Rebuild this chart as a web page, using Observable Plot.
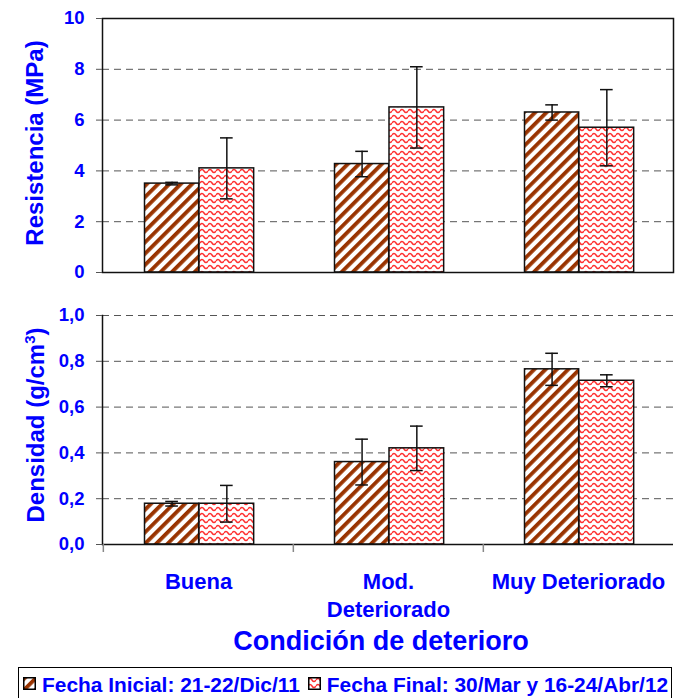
<!DOCTYPE html>
<html><head><meta charset="utf-8">
<script src="https://cdn.jsdelivr.net/npm/d3@7"></script>
<script src="https://cdn.jsdelivr.net/npm/@observablehq/plot@0.6"></script>
<style>
body{margin:0;background:#fff;font-family:"Liberation Sans",Arial,sans-serif;}
#wrap{position:relative;width:676px;height:698px;overflow:hidden;background:#fff;}
.abs{position:absolute;}
.lab{color:#0000ff;font-weight:bold;white-space:nowrap;line-height:1;}
#legend{position:absolute;left:18px;top:667px;width:654px;height:40px;border:1.5px solid #000;box-sizing:border-box;display:flex;align-items:flex-start;padding:5px 0 0 4px;}
#legend .sw{width:13px;height:13px;margin-top:4px;flex:none;}
#legend .tx{color:#0000ff;font-weight:bold;font-size:20.9px;white-space:nowrap;line-height:1.1;}
</style></head><body>
<div id="wrap">
<svg width="0" height="0" style="position:absolute">
<defs>
<pattern id="stripes" patternUnits="userSpaceOnUse" width="8" height="8" patternTransform="rotate(45)">
<rect width="8" height="8" fill="#fff"/>
<rect x="0" y="0" width="3.8" height="8" fill="#993300"/>
</pattern>
<pattern id="waves" patternUnits="userSpaceOnUse" width="8" height="6">
<rect width="8" height="6" fill="#fff"/>
<path d="M0,3 Q2,0 4,3 T8,3" fill="none" stroke="#ff3030" stroke-width="1.5"/>
</pattern>
</defs></svg>
<div id="top" class="abs" style="left:0;top:0"></div>
<div id="bot" class="abs" style="left:0;top:290px"></div>
<div class="abs lab" style="left:35px;top:143px;font-size:24px;transform:translate(-50%,-50%) rotate(-90deg)">Resistencia (MPa)</div>
<div class="abs lab" style="left:35px;top:425px;font-size:24px;transform:translate(-50%,-50%) rotate(-90deg)">Densidad (g/cm<sup style="font-size:15px;vertical-align:9px">3</sup>)</div>
<div class="abs lab" style="left:381px;top:641px;font-size:27px;transform:translate(-50%,-50%)">Condición de deterioro</div>
<div id="legend"></div>
</div>
<script>
const categories = ["Buena", "Mod. Deteriorado", "Muy Deteriorado"];
const categoryLabels = ["Buena", "Mod.\nDeteriorado", "Muy Deteriorado"];
const seriesNames = ["Fecha Inicial: 21-22/Dic/11", "Fecha Final: 30/Mar y 16-24/Abr/12"];
const seriesFills = ["url(#stripes)", "url(#waves)"];

const resistenciaInicial = [3.5, 4.27, 6.3];
const resistenciaInicialErr = [0.05, 0.5, 0.3];
const resistenciaFinal = [4.1, 6.5, 5.7];
const resistenciaFinalErr = [1.2, 1.6, 1.5];

const densidadInicial = [0.178, 0.36, 0.765];
const densidadInicialErr = [0.01, 0.1, 0.07];
const densidadFinal = [0.178, 0.42, 0.715];
const densidadFinalErr = [0.08, 0.097, 0.026];

const resistenciaTicks = [0, 2, 4, 6, 8, 10];
const densidadTicks = [0, 0.2, 0.4, 0.6, 0.8, 1.0];

const W = 676, ML = 102, MR = 3;
const bw = (W - ML - MR) / categories.length;
const barStart = [41.5, 96], barEnd = [96, 151];
const capHalf = 6.5;
const font = "Liberation Sans, Arial, sans-serif";
const ink = "#111";

function rows(vals, errs) {
  return categories.map((c, i) => ({cat: c, value: vals[i], lo: vals[i] - errs[i], hi: vals[i] + errs[i]}));
}

function seriesMarks(data, s) {
  const c = (barStart[s] + barEnd[s]) / 2;
  return [
    Plot.barY(data, {x: "cat", y: "value", fill: seriesFills[s], stroke: ink, strokeWidth: 1.5,
      insetLeft: barStart[s], insetRight: bw - barEnd[s]}),
    Plot.ruleX(data, {x: "cat", y1: "lo", y2: "hi", dx: c - bw / 2, stroke: ink, strokeWidth: 1.5}),
    Plot.tickY(data, {x: "cat", y: "lo", insetLeft: c - capHalf, insetRight: bw - c - capHalf, stroke: ink, strokeWidth: 1.5}),
    Plot.tickY(data, {x: "cat", y: "hi", insetLeft: c - capHalf, insetRight: bw - c - capHalf, stroke: ink, strokeWidth: 1.5})
  ];
}

const yAxisOpts = {tickSize: 6, tickPadding: 12, stroke: "#555", fill: "#0000ff", fontSize: 18.5, fontWeight: "bold", label: null};

const topPlot = Plot.plot({
  width: W, height: 290, marginTop: 18, marginBottom: 18, marginLeft: ML, marginRight: MR,
  x: {domain: categories, padding: 0, axis: null},
  y: {domain: [0, 10], axis: null},
  style: {fontFamily: font, background: "transparent", overflow: "visible"},
  marks: [
    Plot.gridY({ticks: resistenciaTicks.slice(1, -1), stroke: "#555", strokeOpacity: 1, strokeDasharray: "7,5"}),
    ...seriesMarks(rows(resistenciaInicial, resistenciaInicialErr), 0),
    ...seriesMarks(rows(resistenciaFinal, resistenciaFinalErr), 1),
    Plot.frame({stroke: ink, strokeWidth: 1.5}),
    Plot.axisY({...yAxisOpts, ticks: resistenciaTicks, tickFormat: d => String(d)})
  ]
});
document.getElementById("top").appendChild(topPlot);

const botPlot = Plot.plot({
  width: W, height: 340, marginTop: 25, marginBottom: 86, marginLeft: ML, marginRight: MR,
  x: {domain: categories, padding: 0, axis: null},
  y: {domain: [0, 1], axis: null},
  style: {fontFamily: font, background: "transparent", overflow: "visible"},
  marks: [
    Plot.gridY({ticks: densidadTicks.slice(1), stroke: "#555", strokeOpacity: 1, strokeDasharray: "7,5"}),
    ...seriesMarks(rows(densidadInicial, densidadInicialErr), 0),
    ...seriesMarks(rows(densidadFinal, densidadFinalErr), 1),
    Plot.ruleY([0], {stroke: ink, strokeWidth: 1.5}),
    Plot.frame({anchor: "left", stroke: ink, strokeWidth: 1.5}),
    Plot.axisY({...yAxisOpts, ticks: densidadTicks, tickFormat: d => d.toFixed(1).replace(".", ",")}),
    Plot.axisX({ticks: categories, tickSize: 8, dx: -bw / 2, stroke: "#888", strokeWidth: 1.5, fill: "none", label: null}),
    Plot.axisX({ticks: categories, tickSize: 0, tickPadding: 25, fill: "#0000ff", fontSize: 22, fontWeight: "bold",
      lineHeight: 1.27, label: null, tickFormat: d => categoryLabels[categories.indexOf(d)]})
  ]
});
document.getElementById("bot").appendChild(botPlot);

// legend
const legend = document.getElementById("legend");
seriesNames.forEach((name, s) => {
  const ns = "http://www.w3.org/2000/svg";
  const sw = document.createElementNS(ns, "svg");
  sw.setAttribute("class", "sw");
  sw.setAttribute("width", 13); sw.setAttribute("height", 13);
  const r = document.createElementNS(ns, "rect");
  r.setAttribute("x", 0.75); r.setAttribute("y", 0.75); r.setAttribute("width", 11.5); r.setAttribute("height", 11.5);
  r.setAttribute("fill", seriesFills[s]); r.setAttribute("stroke", "#000"); r.setAttribute("stroke-width", 1.5);
  sw.appendChild(r);
  sw.style.marginLeft = s === 0 ? "0px" : "8px";
  sw.style.marginRight = "6px";
  legend.appendChild(sw);
  const t = document.createElement("span");
  t.className = "tx";
  t.textContent = name;
  legend.appendChild(t);
});
</script>
</body></html>
